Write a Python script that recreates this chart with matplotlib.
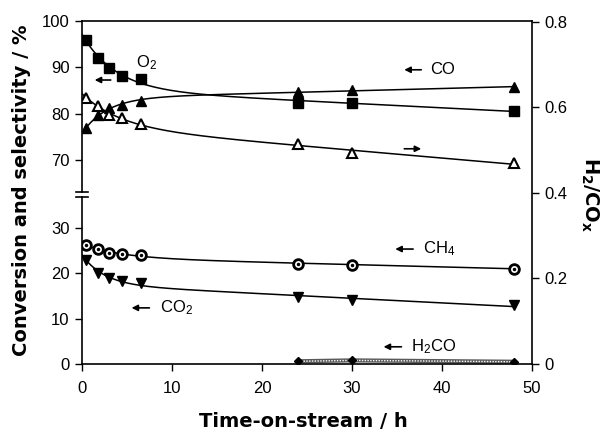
import numpy as np
import matplotlib.pyplot as plt

plt.rcParams['font.family'] = ['Liberation Sans', 'DejaVu Sans']
plt.rcParams['mathtext.fontset'] = 'custom'
plt.rcParams['mathtext.rm'] = 'Liberation Sans'
plt.rcParams['mathtext.bf'] = 'DejaVu Sans:bold'
plt.rcParams['mathtext.default'] = 'regular'

# time on stream (h)
hours = [0.5, 1.8, 3.0, 4.5, 6.5, 24, 30, 48]
o2_conv = [95.9, 92.0, 89.8, 88.2, 87.5, 82.4, 82.3, 80.7]
co_sel = [77.0, 79.8, 81.3, 82.0, 82.8, 84.8, 85.2, 85.7]
h2_cox = [0.623, 0.603, 0.582, 0.575, 0.561, 0.515, 0.493, 0.469]
ch4_sel = [26.3, 25.3, 24.6, 24.3, 24.1, 22.2, 21.9, 21.1]
co2_sel = [23.0, 20.2, 19.1, 18.3, 17.8, 14.9, 14.1, 13.0]
h2co_hours = [24, 30, 48]
h2co_sel = [0.6, 0.8, 0.5]


def smooth_fit(t, y, t_new):
    # y = a + b*exp(-t/tau) + c*t, pick tau by least squares
    t = np.asarray(t, float)
    y = np.asarray(y, float)
    best = None
    for tau in np.linspace(0.5, 20, 80):
        A = np.column_stack([np.ones_like(t), np.exp(-t / tau), t])
        coef, res, *_ = np.linalg.lstsq(A, y, rcond=None)
        err = np.sum((A @ coef - y) ** 2)
        if best is None or err < best[0]:
            best = (err, tau, coef)
    _, tau, coef = best
    return coef[0] + coef[1] * np.exp(-t_new / tau) + coef[2] * t_new


fig = plt.figure(figsize=(6.05, 4.36), dpi=100)
L, W = 82 / 605, 450 / 605
ax_top = fig.add_axes([L, 1 - 192 / 436, W, 171 / 436])
ax_bot = fig.add_axes([L, 1 - 364 / 436, W, 167 / 436])
ax_r = fig.add_axes([L, 1 - 364 / 436, W, 343 / 436])

tt = np.linspace(0, 48, 300)
lw = 1.1

ax_top.plot(tt, smooth_fit(hours, o2_conv, tt), color='k', lw=lw)
ax_top.plot(hours, o2_conv, 's', color='k', ms=6.5)
ax_top.plot(tt, smooth_fit(hours, co_sel, tt), color='k', lw=lw)
ax_top.plot(hours, co_sel, '^', color='k', ms=6.5)
ax_top.set_ylim(63.2, 100)
ax_top.set_yticks([70, 80, 90, 100])

ax_bot.plot(tt, smooth_fit(hours, ch4_sel, tt), color='k', lw=lw)
ax_bot.plot(hours, ch4_sel, 'o', mfc='white', mec='k', mew=2, ms=7)
ax_bot.plot(hours, ch4_sel, '.', color='k', ms=3)
ax_bot.plot(tt, smooth_fit(hours, co2_sel, tt), color='k', lw=lw)
ax_bot.plot(hours, co2_sel, 'v', color='k', ms=6.5)
ax_bot.plot(h2co_hours, h2co_sel, color='0.35', lw=3, solid_capstyle='butt')
ax_bot.plot(h2co_hours, h2co_sel, color='white', lw=1, ls=(0, (1, 1)))
ax_bot.plot(h2co_hours, h2co_sel, 'D', color='k', ms=4.5)
ax_bot.set_ylim(0, 36.9)
ax_bot.set_yticks([0, 10, 20, 30])

ax_r.plot(tt, smooth_fit(hours, h2_cox, tt), color='k', lw=lw)
ax_r.plot(hours, h2_cox, '^', mfc='white', mec='k', mew=1.5, ms=7)
ax_r.set_ylim(0, 0.802)
ax_r.set_yticks([0, 0.2, 0.4, 0.6, 0.8])
ax_r.set_yticklabels(['0', '0.2', '0.4', '0.6', '0.8'])
ax_r.yaxis.tick_right()
ax_r.patch.set_visible(False)
ax_r.set_xticks([])
for s in ['left', 'top', 'bottom']:
    ax_r.spines[s].set_visible(False)

for ax in (ax_top, ax_bot, ax_r):
    ax.set_xlim(0, 50)
    ax.spines['right'].set_visible(ax is ax_r)
    ax.tick_params(direction='out', length=5, width=1, labelsize=12, pad=4)
    for s in ax.spines.values():
        s.set_linewidth(1.2)

ax_top.spines['bottom'].set_visible(False)
ax_top.tick_params(axis='x', bottom=False, labelbottom=False)
ax_bot.spines['top'].set_visible(False)
ax_bot.set_xticks([0, 10, 20, 30, 40, 50])
ax_bot.tick_params(axis='x', pad=7)

# break marks on left axis
for yb in (192, 197):
    fig.add_artist(plt.Line2D([76 / 605, 88 / 605], [1 - yb / 436] * 2, color='k', lw=1.2))

arrow = dict(arrowstyle='-|>', lw=1.2, color='k', mutation_scale=9)
ax_top.annotate('', xy=(1.1, 87.3), xytext=(3.5, 87.3), arrowprops=arrow)
ax_top.text(6.0, 91.0, 'O$_2$', fontsize=12, va='center')
ax_top.annotate('', xy=(35.5, 89.5), xytext=(38.0, 89.5), arrowprops=arrow)
ax_top.text(38.7, 89.5, 'CO', fontsize=12, va='center')
ax_top.annotate('', xy=(38.0, 72.5), xytext=(35.5, 72.5), arrowprops=arrow)
ax_bot.annotate('', xy=(34.5, 25.4), xytext=(37.1, 25.4), arrowprops=arrow)
ax_bot.text(37.9, 25.4, 'CH$_4$', fontsize=12, va='center')
ax_bot.annotate('', xy=(5.2, 12.4), xytext=(7.8, 12.4), arrowprops=arrow)
ax_bot.text(8.7, 12.4, 'CO$_2$', fontsize=12, va='center')
ax_bot.annotate('', xy=(33.2, 3.8), xytext=(35.8, 3.8), arrowprops=arrow)
ax_bot.text(36.6, 3.8, 'H$_2$CO', fontsize=12, va='center')

label_font = dict(family='DejaVu Sans', fontsize=14, fontweight='bold')
fig.text(22 / 605, 1 - 190 / 436, 'Conversion and selectivity / %', rotation=90,
         ha='center', va='center', **label_font)
fig.text(303 / 605, 1 - 421 / 436, 'Time-on-stream / h',
         ha='center', va='center', **label_font)
fig.text(590 / 605, 1 - 195 / 436, r'$\mathbf{H_2/CO_x}$', rotation=-90,
         fontsize=14, ha='center', va='center')

fig.savefig('out.png', dpi=100)
